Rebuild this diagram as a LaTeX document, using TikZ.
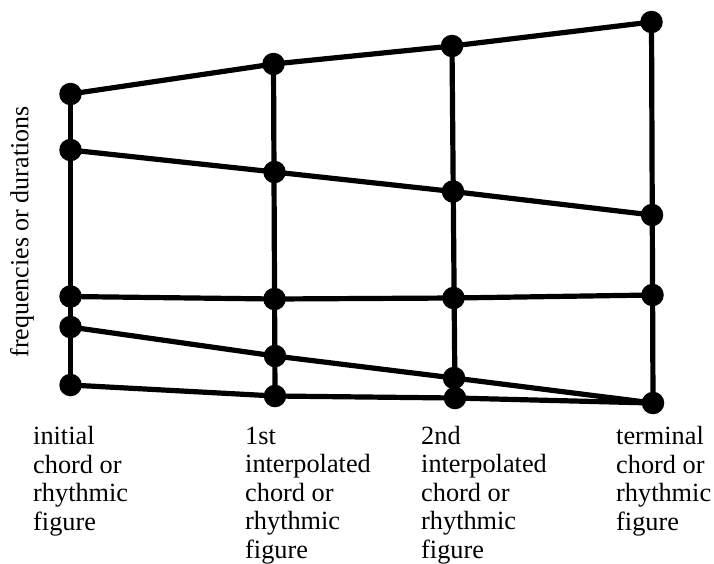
\documentclass[tikz,border=0pt]{standalone}
\usepackage{fontspec}
\setmainfont{Liberation Serif}
\begin{document}
\begin{tikzpicture}[x=1pt,y=-1pt,
  dot/.style={circle,fill=black,draw=none,inner sep=0pt,minimum size=22.5pt},
  grid/.style={line width=5.2pt,black},
  lbl/.style={font=\fontsize{26.3}{28.5}\selectfont,align=left,inner sep=0pt,anchor=base west},
  axislbl/.style={font=\fontsize{26}{28.5}\selectfont,inner sep=0pt,rotate=90}]
\useasboundingbox (0,0) rectangle (714,563);
% dots
\node[dot] (a1) at (70.5,94) {};
\node[dot] (b1) at (70.5,150) {};
\node[dot] (c1) at (70.5,296.5) {};
\node[dot] (d1) at (70.5,327) {};
\node[dot] (e1) at (70.5,385) {};
\node[dot] (a2) at (273.5,64) {};
\node[dot] (b2) at (274.5,172) {};
\node[dot] (c2) at (274.5,299) {};
\node[dot] (d2) at (275,356) {};
\node[dot] (e2) at (275,396) {};
\node[dot] (a3) at (452,46) {};
\node[dot] (b3) at (453,191.5) {};
\node[dot] (c3) at (453.5,298) {};
\node[dot] (d3) at (454,378) {};
\node[dot] (e3) at (455,398) {};
\node[dot] (a4) at (651.5,22) {};
\node[dot] (b4) at (652,215) {};
\node[dot] (c4) at (652.5,295) {};
\node[dot] (e4) at (653,403) {};
% connectors
\draw[grid] (a1.center) -- (a2.center) -- (a3.center) -- (a4.center);
\draw[grid] (b1.center) -- (b2.center) -- (b3.center) -- (b4.center);
\draw[grid] (c1.center) -- (c2.center) -- (c3.center) -- (c4.center);
\draw[grid] (d1.center) -- (d2.center) -- (d3.center) -- (e4.center);
\draw[grid] (e1.center) -- (e2.center) -- (e3.center) -- (e4.center);
\draw[grid] (a1.center) -- (e1.center);
\draw[grid] (a2.center) -- (e2.center);
\draw[grid] (a3.center) -- (e3.center);
\draw[grid] (a4.center) -- (e4.center);
% labels (anchor = baseline of the last line)
\node[axislbl] (ylab) at (22,232) {frequencies or durations};
\node[lbl] (l1) at (33,530) {initial\\chord or\\rhythmic\\figure};
\node[lbl] (l2) at (245,558) {1st\\interpolated\\chord or\\rhythmic\\figure};
\node[lbl] (l3) at (421,558) {2nd\\interpolated\\chord or\\rhythmic\\figure};
\node[lbl] (l4) at (616,530) {terminal\\chord or\\rhythmic\\figure};
\end{tikzpicture}
\end{document}
